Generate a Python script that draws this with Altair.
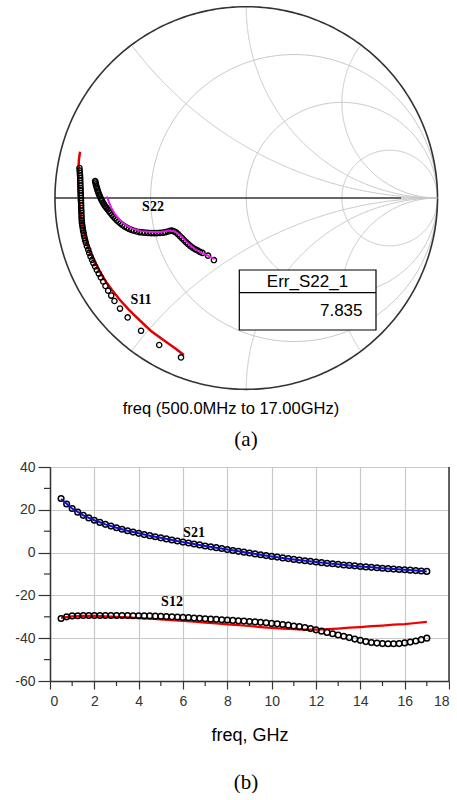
import altair as alt
import numpy as np
import pandas as pd

# ---------------- Smith chart (a) data: reflection coefficient (re, im) ----------------
r_circles = [1 / 3, 1.0, 3.0]
x_arcs = [0.5, 1.0, 2.0, -0.5, -1.0, -2.0]

s11_meas_re = [-0.872, -0.871, -0.870, -0.869, -0.868, -0.868, -0.867, -0.867, -0.866, -0.866,
               -0.865, -0.865, -0.864, -0.864, -0.8635, -0.863, -0.863, -0.862, -0.862, -0.861,
               -0.861, -0.860, -0.859, -0.857, -0.855, -0.853, -0.850, -0.848, -0.845, -0.842,
               -0.838, -0.833, -0.826, -0.821, -0.814, -0.806, -0.799, -0.790, -0.781, -0.771,
               -0.760, -0.748, -0.736, -0.722, -0.706, -0.689, -0.660, -0.620, -0.550, -0.455,
               -0.341]
s11_meas_im = [0.157, 0.144, 0.131, 0.118, 0.105, 0.092, 0.078, 0.065, 0.052, 0.039,
               0.026, 0.013, 0.000, -0.013, -0.026, -0.039, -0.052, -0.065, -0.078, -0.092,
               -0.105, -0.118, -0.131, -0.144, -0.157, -0.170, -0.183, -0.196, -0.209, -0.222,
               -0.235, -0.252, -0.270, -0.287, -0.305, -0.323, -0.340, -0.358, -0.376, -0.395,
               -0.415, -0.436, -0.460, -0.484, -0.510, -0.538, -0.578, -0.624, -0.694, -0.768,
               -0.833]

s11_model_re = [-0.869, -0.875, -0.877, -0.878, -0.877, -0.875, -0.869, -0.861, -0.851, -0.838,
                -0.820, -0.796, -0.770, -0.739, -0.702, -0.660, -0.613, -0.558, -0.498, -0.433,
                -0.367, -0.326]
s11_model_im = [0.242, 0.199, 0.146, 0.094, 0.042, -0.010, -0.063, -0.115, -0.167, -0.220,
                -0.272, -0.324, -0.376, -0.429, -0.481, -0.533, -0.585, -0.638, -0.695, -0.742,
                -0.789, -0.821]

s22_meas_re = [-0.790, -0.788, -0.786, -0.783, -0.780, -0.777, -0.773, -0.769, -0.765, -0.760,
               -0.755, -0.749, -0.744, -0.738, -0.731, -0.724, -0.717, -0.710, -0.702, -0.694,
               -0.686, -0.677, -0.668, -0.658, -0.648, -0.637, -0.625, -0.613, -0.600, -0.587,
               -0.573, -0.558, -0.544, -0.530, -0.514, -0.498, -0.483, -0.467, -0.451, -0.435,
               -0.422, -0.409, -0.398, -0.388, -0.378, -0.367, -0.357, -0.347, -0.336, -0.326,
               -0.315, -0.305, -0.293, -0.281, -0.268, -0.255, -0.242, -0.229, -0.200, -0.169]
s22_meas_im = [0.088, 0.081, 0.071, 0.060, 0.050, 0.039, 0.028, 0.018, 0.008, -0.003,
               -0.013, -0.024, -0.033, -0.042, -0.051, -0.060, -0.069, -0.078, -0.088, -0.097,
               -0.106, -0.115, -0.124, -0.132, -0.140, -0.148, -0.155, -0.161, -0.166, -0.171,
               -0.175, -0.178, -0.180, -0.181, -0.182, -0.183, -0.183, -0.183, -0.182, -0.181,
               -0.178, -0.175, -0.172, -0.170, -0.174, -0.180, -0.189, -0.199, -0.210, -0.220,
               -0.230, -0.240, -0.250, -0.259, -0.267, -0.274, -0.281, -0.287, -0.301, -0.324]

s22_model_re = [-0.728, -0.718, -0.705, -0.686, -0.663, -0.634, -0.597, -0.550, -0.498, -0.446,
                -0.404, -0.373, -0.341, -0.310, -0.273, -0.237, -0.200, -0.166]
s22_model_im = [0.008, -0.021, -0.052, -0.084, -0.112, -0.139, -0.159, -0.173, -0.178, -0.177,
                -0.170, -0.175, -0.199, -0.233, -0.264, -0.285, -0.301, -0.319]

err_label = "Err_S22_1"
err_value = "7.835"

# ---------------- Line chart (b) data ----------------
freq_meas = [0.5 + 0.25 * i for i in range(67)]
s21_meas = [25.3, 22.7, 20.6, 18.9, 17.4, 16.2, 15.1, 14.1, 13.2, 12.4, 11.6, 10.9, 10.2, 9.6,
            9.0, 8.4, 7.9, 7.4, 6.9, 6.4, 5.9, 5.4, 4.9, 4.5, 4.0, 3.6, 3.1, 2.7, 2.3, 1.9,
            1.4, 1.0, 0.6, 0.2, -0.2, -0.6, -1.0, -1.4, -1.8, -2.1, -2.5, -2.8, -3.2, -3.5,
            -3.8, -4.1, -4.4, -4.7, -5.0, -5.2, -5.5, -5.8, -6.0, -6.2, -6.5, -6.7, -6.9,
            -7.1, -7.3, -7.5, -7.7, -7.9, -8.0, -8.2, -8.4, -8.6, -8.8]
s12_meas = [-30.8, -30.0, -29.6, -29.5, -29.4, -29.4, -29.4, -29.4, -29.4, -29.4, -29.4, -29.4,
            -29.4, -29.5, -29.5, -29.6, -29.6, -29.7, -29.8, -29.9, -30.0, -30.1, -30.3, -30.4,
            -30.6, -30.7, -30.9, -31.1, -31.2, -31.4, -31.5, -31.7, -31.9, -32.0, -32.2, -32.4,
            -32.6, -32.8, -33.1, -33.3, -33.6, -33.9, -34.3, -34.6, -35.0, -35.5, -36.1, -36.7,
            -37.3, -37.9, -38.5, -39.1, -39.7, -40.4, -41.0, -41.6, -42.0, -42.3, -42.5, -42.6,
            -42.6, -42.5, -42.2, -41.8, -41.3, -40.7, -40.0]

freq_model = [0.5 + 0.5 * i for i in range(34)]
s21_model = [25.0, 20.6, 17.4, 15.1, 13.2, 11.6, 10.2, 9.0, 7.9, 6.9, 5.9, 4.9, 4.0, 3.1, 2.3,
             1.4, 0.6, -0.2, -1.0, -1.8, -2.5, -3.2, -3.8, -4.4, -5.0, -5.5, -6.0, -6.5, -6.9,
             -7.3, -7.7, -8.0, -8.4, -8.8]
s12_model = [-30.5, -29.8, -29.6, -29.6, -29.8, -30.0, -30.3, -30.6, -30.9, -31.2, -31.6, -31.9,
             -32.3, -32.7, -33.1, -33.5, -33.9, -34.3, -34.8, -35.2, -35.5, -35.8, -36.0, -36.0,
             -35.8, -35.5, -35.1, -34.8, -34.4, -34.1, -33.7, -33.4, -32.9, -32.4]

x_ticks = [0, 2, 4, 6, 8, 10, 12, 14, 16, 18]
x_minor = [1, 3, 5, 7, 9, 11, 13, 15, 17]
y_ticks = [-60, -40, -20, 0, 20, 40]
y_minor = [-50, -30, -10, 10, 30]

SANS = "Liberation Sans"
SERIF = "Liberation Serif"
GRID = "#c8c8c8"
DARK = "#333333"

# ---------------- Smith chart geometry (from grid value lists) ----------------
rows = []
theta = np.linspace(0, 2 * np.pi, 361)
for r in r_circles:
    c, rad = r / (1 + r), 1 / (1 + r)
    for k, t in enumerate(theta):
        rows.append(dict(gx=c + rad * np.cos(t), gy=rad * np.sin(t), cid=f"r{r:.3f}", o=k))
ts = np.linspace(0, np.pi / 2 * 0.9995, 300)
for xv in x_arcs:
    for k, t in enumerate(ts):
        z = complex(np.tan(t), xv)
        g = (z - 1) / (z + 1)
        rows.append(dict(gx=g.real, gy=g.imag, cid=f"x{xv}", o=k))
grid_df = pd.DataFrame(rows)
outer_df = pd.DataFrame(dict(gx=np.cos(theta), gy=np.sin(theta), o=range(len(theta))))
axis_dark = pd.DataFrame(dict(gx=[-1.0, 0.81], gy=[0.0, 0.0]))
axis_light = pd.DataFrame(dict(gx=[0.81, 1.0], gy=[0.0, 0.0]))

s11m = pd.DataFrame(dict(gx=s11_meas_re, gy=s11_meas_im))
s11f = pd.DataFrame(dict(gx=s11_model_re, gy=s11_model_im, o=range(len(s11_model_re))))
s22m = pd.DataFrame(dict(gx=s22_meas_re, gy=s22_meas_im))
s22f = pd.DataFrame(dict(gx=s22_model_re, gy=s22_model_im, o=range(len(s22_model_re))))

W1, H1 = 399, 450
xs = alt.Scale(domain=[-1.026, 1.060], nice=False, zero=False)
ys = alt.Scale(domain=[-1.317, 1.035], nice=False, zero=False)
X = alt.X("gx:Q", scale=xs, axis=None)
Y = alt.Y("gy:Q", scale=ys, axis=None)

grid_l = alt.Chart(grid_df).mark_line(color=GRID, strokeWidth=1).encode(
    x=X, y=Y, detail="cid:N", order="o:Q")
outer_l = alt.Chart(outer_df).mark_line(color=DARK, strokeWidth=1.6).encode(x=X, y=Y, order="o:Q")
ax_d = alt.Chart(axis_dark).mark_line(color=DARK, strokeWidth=1.3).encode(x=X, y=Y)
ax_l = alt.Chart(axis_light).mark_line(color=GRID, strokeWidth=1.3).encode(x=X, y=Y)
s11_line = alt.Chart(s11f).mark_line(color="#e00000", strokeWidth=2.5).encode(x=X, y=Y, order="o:Q")
s11_pts = alt.Chart(s11m).mark_point(shape="circle", filled=False, color="black", size=28,
                                     strokeWidth=1.3, opacity=1).encode(x=X, y=Y)
s22_pts = alt.Chart(s22m).mark_point(shape="circle", filled=False, color="black", size=28,
                                     strokeWidth=1.4, opacity=1).encode(x=X, y=Y)
s22_line = alt.Chart(s22f).mark_line(color="#e020e0", strokeWidth=2).encode(x=X, y=Y, order="o:Q")


def label(txt, px, py, size=14, font=SERIF, weight="bold", align="center", color="black"):
    return alt.Chart(pd.DataFrame({"t": [txt]})).mark_text(
        font=font, fontSize=size, fontWeight=weight, align=align, baseline="middle", color=color
    ).encode(text="t:N", x=alt.value(px), y=alt.value(py))


box = alt.Chart(pd.DataFrame({"t": [err_label]})).mark_rect(
    fill="white", stroke="black", strokeWidth=1.2).encode(
    x=alt.value(189.3), x2=alt.value(326), y=alt.value(270), y2=alt.value(330))
box_div = alt.Chart(pd.DataFrame({"t": [err_label]})).mark_rule(color="black", strokeWidth=1.2).encode(
    x=alt.value(189.3), x2=alt.value(326), y=alt.value(292.7))

top = alt.layer(
    grid_l, outer_l, ax_l, ax_d, s11_line, s11_pts, s22_pts, s22_line,
    label("S22", 103, 207), label("S11", 91, 300),
    box, box_div,
    label(err_label, 257.5, 281.7, size=17, font=SANS, weight="normal"),
    label(err_value, 312.5, 310.5, size=17, font=SANS, weight="normal", align="right"),
    label("freq (500.0MHz to 17.00GHz)", 181, 409, size=16.5, font=SANS, weight="normal"),
    label("(a)", 196, 440, size=21, font=SERIF, weight="normal"),
).properties(width=W1, height=H1)

# ---------------- bottom chart ----------------
meas_df = pd.concat([
    pd.DataFrame(dict(f=freq_meas, v=s21_meas, s="S21")),
    pd.DataFrame(dict(f=freq_meas, v=s12_meas, s="S12")),
])
s21f = pd.DataFrame(dict(f=freq_model, v=s21_model))
s12f = pd.DataFrame(dict(f=freq_model, v=s12_model))

W2, H2 = 399, 214
bx = alt.X("f:Q", scale=alt.Scale(domain=[0, 18], nice=False, zero=False),
           axis=alt.Axis(values=x_ticks, title="freq, GHz", tickSize=8, labelPadding=5,
                         titlePadding=18, grid=True, labelExpr="'' + datum.value"))
by = alt.Y("v:Q", scale=alt.Scale(domain=[-60, 40], nice=False, zero=False),
           axis=alt.Axis(values=y_ticks, title=None, tickSize=12, labelPadding=3, grid=True,
                         labelExpr="'' + datum.value"))

s12_line = alt.Chart(s12f).mark_line(color="#ee0000", strokeWidth=2.2).encode(x=bx, y=by)
pts = alt.Chart(meas_df).mark_point(shape="circle", filled=False, color="black", size=32,
                                    strokeWidth=1.5, opacity=1).encode(x=bx, y=by, detail="s:N")
s21_line = alt.Chart(s21f).mark_line(color="#1010c0", strokeWidth=2).encode(x=bx, y=by)

xminor = alt.Chart(pd.DataFrame(dict(f=x_minor))).mark_rule(color=DARK, strokeWidth=1.2).encode(
    x=alt.X("f:Q"), y=alt.value(H2), y2=alt.value(H2 + 5))
yminor = alt.Chart(pd.DataFrame(dict(v=y_minor))).mark_rule(color=DARK, strokeWidth=1.2).encode(
    y=alt.Y("v:Q"), x=alt.value(0), x2=alt.value(-6))
right_border = alt.Chart(pd.DataFrame(dict(f=[18]))).mark_rule(color=DARK, strokeWidth=1.5).encode(
    x=alt.X("f:Q"), y=alt.value(0), y2=alt.value(H2))

bottom = alt.layer(
    s12_line, pts, s21_line, xminor, yminor, right_border,
    label("S21", 144, 66), label("S12", 122, 135),
    label("(b)", 196, 316, size=21, font=SERIF, weight="normal"),
).properties(width=W2, height=H2)

chart = alt.vconcat(top, bottom, spacing=10).properties(
    padding={"left": 14, "top": 0, "right": 0, "bottom": 0}
).configure_view(stroke=None).configure_axis(
    labelFont=SANS, labelFontSize=14, labelColor=DARK, titleFont=SANS, titleFontSize=18,
    titleFontWeight="normal", titleColor="black", domainColor=DARK, domainWidth=1.5,
    tickColor=DARK, tickWidth=1.2, gridColor=GRID, gridWidth=1.2
)

chart.save("out.html", embed_options={"renderer": "svg", "actions": False})
